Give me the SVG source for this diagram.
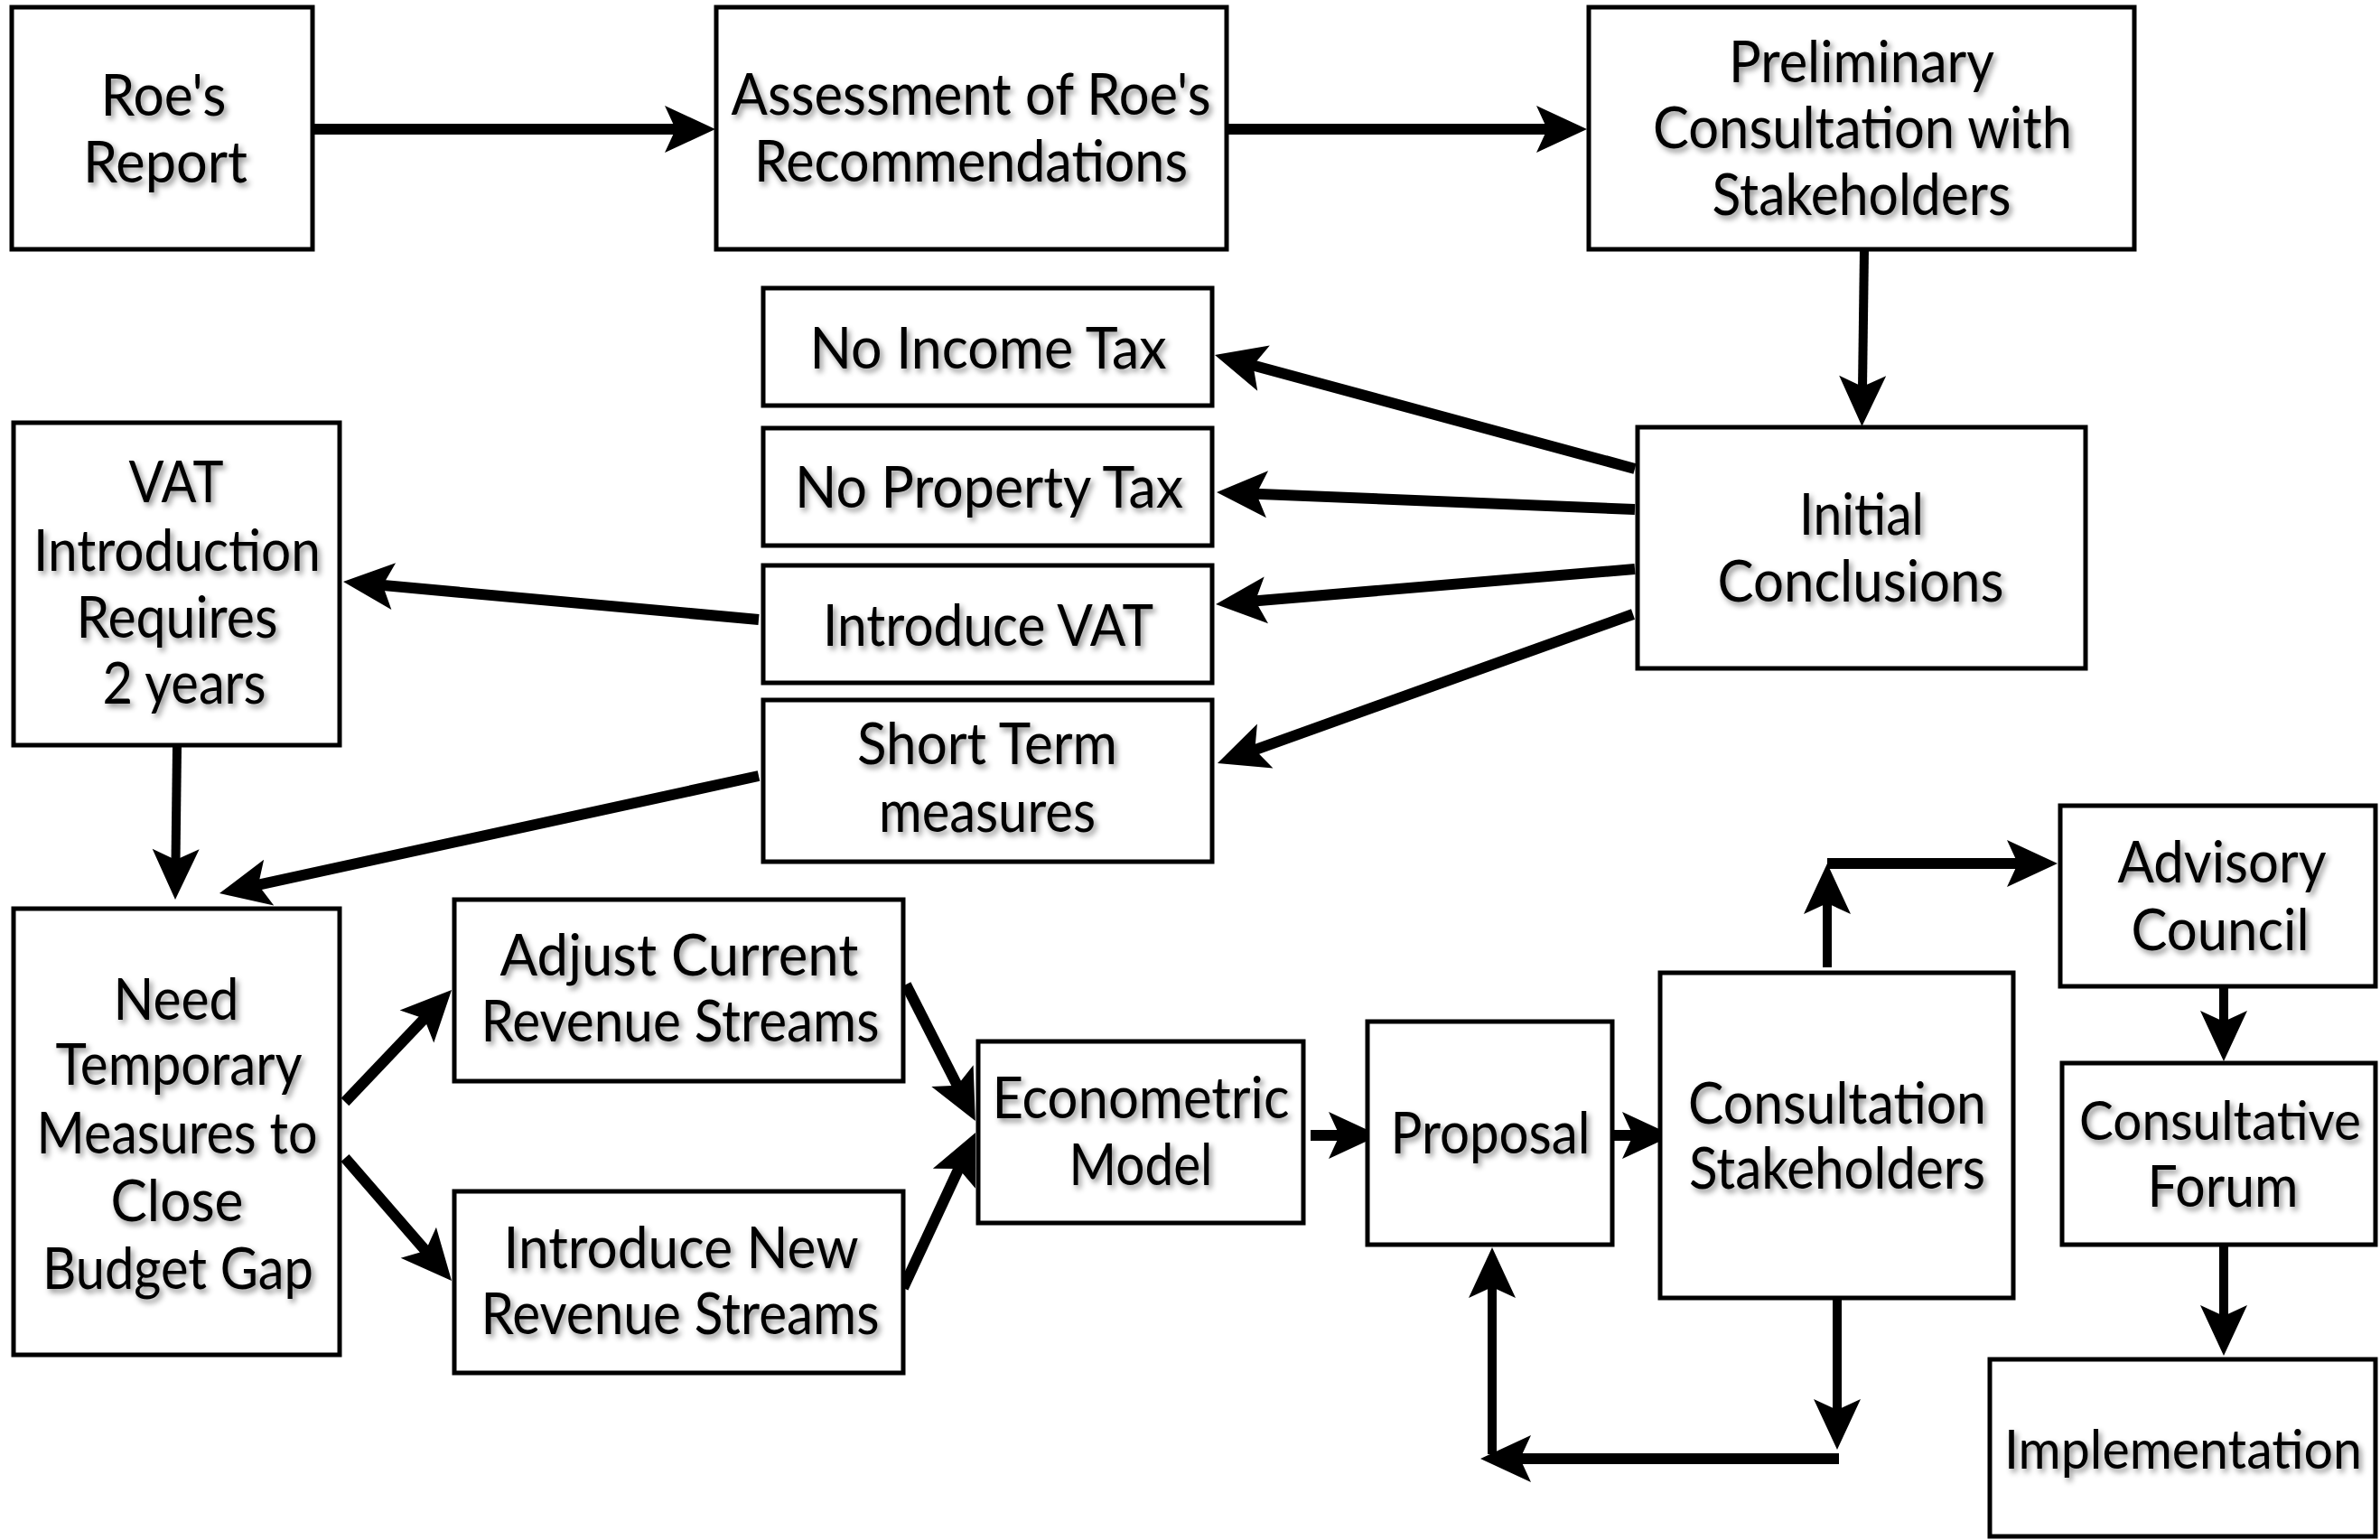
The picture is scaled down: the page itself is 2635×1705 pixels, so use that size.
<svg xmlns="http://www.w3.org/2000/svg" width="2635" height="1705" viewBox="0 0 2635 1705">
<style>
.box{fill:#fff;stroke:#000;stroke-width:5}
.t{font-family:Lato,"Liberation Sans",sans-serif;font-size:64px;fill:#000;text-anchor:middle;filter:url(#sh)}
.t.s{font-size:60px}
.c{fill:none;stroke:#000;stroke-width:12;stroke-linecap:butt;marker-end:url(#ah)}
.c.thin{stroke-width:10}
</style>
<defs>
<filter id="sh" x="-10%" y="-30%" width="120%" height="160%">
<feDropShadow dx="3" dy="4" stdDeviation="3" flood-color="#000" flood-opacity="0.45"/>
</filter>
<marker id="ah" markerUnits="userSpaceOnUse" markerWidth="60" markerHeight="60" refX="14" refY="28" orient="auto" overflow="visible">
<path d="M0,2 L56,28 L0,54 L12,28 Z" fill="#000"/>
</marker>
</defs>
<rect width="2635" height="1705" fill="#fff"/>

<g id="connectors">
<line class="c" x1="346" y1="143" x2="750" y2="143"/>
<line class="c" x1="1358" y1="143" x2="1715" y2="143"/>
<line class="c thin" x1="2064" y1="276" x2="2062" y2="430"/>
<line class="c" x1="1810" y1="519" x2="1385.5" y2="404"/>
<line class="c" x1="1810" y1="564" x2="1389" y2="546.7"/>
<line class="c" x1="1810" y1="630" x2="1387.9" y2="665.5"/>
<line class="c" x1="1808" y1="680" x2="1387.5" y2="830.8"/>
<line class="c" x1="840" y1="686" x2="421.8" y2="647.8"/>
<line class="c thin" x1="196" y1="827" x2="194.5" y2="954"/>
<line class="c" x1="840" y1="859" x2="284" y2="980.1"/>
<line class="c" x1="382" y1="1220" x2="471.1" y2="1126.4"/>
<line class="c" x1="382" y1="1282" x2="472.5" y2="1386.3"/>
<line class="c" x1="1003" y1="1090" x2="1060.8" y2="1203.6"/>
<line class="c" x1="1000" y1="1426" x2="1062.3" y2="1292.1"/>
<line class="c" x1="1451" y1="1257" x2="1485" y2="1257"/>
<line class="c" x1="1785" y1="1257" x2="1810" y2="1257"/>
<line class="c thin" x1="2023" y1="1071" x2="2023" y2="998"/>
<line class="c" x1="2023" y1="956" x2="2236" y2="956"/>
<line class="c thin" x1="2034" y1="1439" x2="2034" y2="1563"/>
<line class="c" x1="2036" y1="1615" x2="1681" y2="1615"/>
<line class="c thin" x1="1652" y1="1610" x2="1652" y2="1423"/>
<line class="c thin" x1="2462" y1="1093" x2="2462" y2="1133"/>
<line class="c thin" x1="2462" y1="1378" x2="2462" y2="1459"/>
</g>

<g id="n-roes-report">
<rect class="box" x="13" y="8" width="333" height="268"/>
<text class="t" x="181" y="128" textLength="139" lengthAdjust="spacingAndGlyphs">Roe's</text>
<text class="t" x="183" y="202" textLength="182" lengthAdjust="spacingAndGlyphs">Report</text>
</g>
<g id="n-assessment">
<rect class="box" x="793" y="8" width="565" height="268"/>
<text class="t" x="1075" y="127" textLength="531" lengthAdjust="spacingAndGlyphs">Assessment of Roe's</text>
<text class="t" x="1075" y="201" textLength="480" lengthAdjust="spacingAndGlyphs">Recommendations</text>
</g>
<g id="n-preliminary">
<rect class="box" x="1759" y="8" width="604" height="268"/>
<text class="t" x="2061" y="91" textLength="294" lengthAdjust="spacingAndGlyphs">Preliminary</text>
<text class="t" x="2062" y="164" textLength="464" lengthAdjust="spacingAndGlyphs">Consultation with</text>
<text class="t" x="2061" y="238" textLength="331" lengthAdjust="spacingAndGlyphs">Stakeholders</text>
</g>
<g id="n-no-income-tax">
<rect class="box" x="845" y="319" width="497" height="130"/>
<text class="t" x="1094" y="408" textLength="395" lengthAdjust="spacingAndGlyphs">No Income Tax</text>
</g>
<g id="n-no-property-tax">
<rect class="box" x="845" y="474" width="497" height="130"/>
<text class="t" x="1095" y="562" textLength="430" lengthAdjust="spacingAndGlyphs">No Property Tax</text>
</g>
<g id="n-introduce-vat">
<rect class="box" x="845" y="626" width="497" height="130"/>
<text class="t" x="1094" y="715" textLength="366" lengthAdjust="spacingAndGlyphs">Introduce VAT</text>
</g>
<g id="n-short-term">
<rect class="box" x="845" y="775" width="497" height="179"/>
<text class="t" x="1093" y="846" textLength="288" lengthAdjust="spacingAndGlyphs">Short Term</text>
<text class="t" x="1093" y="921" textLength="240" lengthAdjust="spacingAndGlyphs">measures</text>
</g>
<g id="n-vat-intro">
<rect class="box" x="15" y="468" width="361" height="357"/>
<text class="t" x="195" y="556" textLength="105" lengthAdjust="spacingAndGlyphs">VAT</text>
<text class="t" x="196" y="632" textLength="318" lengthAdjust="spacingAndGlyphs">Introduction</text>
<text class="t" x="196" y="706" textLength="223" lengthAdjust="spacingAndGlyphs">Requires</text>
<text class="t" x="204" y="779" textLength="181" lengthAdjust="spacingAndGlyphs">2 years</text>
</g>
<g id="n-initial-conclusions">
<rect class="box" x="1813" y="473" width="496" height="267"/>
<text class="t" x="2061" y="592" textLength="138" lengthAdjust="spacingAndGlyphs">Initial</text>
<text class="t" x="2060" y="666" textLength="317" lengthAdjust="spacingAndGlyphs">Conclusions</text>
</g>
<g id="n-need-temporary">
<rect class="box" x="15" y="1006" width="361" height="494"/>
<text class="t" x="195" y="1129" textLength="139" lengthAdjust="spacingAndGlyphs">Need</text>
<text class="t" x="198" y="1201" textLength="273" lengthAdjust="spacingAndGlyphs">Temporary</text>
<text class="t" x="196" y="1277" textLength="311" lengthAdjust="spacingAndGlyphs">Measures to</text>
<text class="t" x="196" y="1352" textLength="147" lengthAdjust="spacingAndGlyphs">Close</text>
<text class="t" x="197" y="1427" textLength="300" lengthAdjust="spacingAndGlyphs">Budget Gap</text>
</g>
<g id="n-adjust-current">
<rect class="box" x="503" y="996" width="497" height="201"/>
<text class="t" x="752" y="1080" textLength="397" lengthAdjust="spacingAndGlyphs">Adjust Current</text>
<text class="t" x="753" y="1153" textLength="441" lengthAdjust="spacingAndGlyphs">Revenue Streams</text>
</g>
<g id="n-introduce-new">
<rect class="box" x="503" y="1319" width="497" height="201"/>
<text class="t" x="754" y="1404" textLength="393" lengthAdjust="spacingAndGlyphs">Introduce New</text>
<text class="t" x="753" y="1477" textLength="441" lengthAdjust="spacingAndGlyphs">Revenue Streams</text>
</g>
<g id="n-econometric">
<rect class="box" x="1083" y="1153" width="360" height="201"/>
<text class="t" x="1263" y="1238" textLength="329" lengthAdjust="spacingAndGlyphs">Econometric</text>
<text class="t" x="1263" y="1312" textLength="159" lengthAdjust="spacingAndGlyphs">Model</text>
</g>
<g id="n-proposal">
<rect class="box" x="1514" y="1131" width="271" height="247"/>
<text class="t" x="1650" y="1277" textLength="221" lengthAdjust="spacingAndGlyphs">Proposal</text>
</g>
<g id="n-consultation">
<rect class="box" x="1838" y="1077" width="391" height="360"/>
<text class="t" x="2034" y="1244" textLength="330" lengthAdjust="spacingAndGlyphs">Consultation</text>
<text class="t" x="2034" y="1316" textLength="328" lengthAdjust="spacingAndGlyphs">Stakeholders</text>
</g>
<g id="n-advisory">
<rect class="box" x="2281" y="892" width="349" height="200"/>
<text class="t" x="2460" y="977" textLength="231" lengthAdjust="spacingAndGlyphs">Advisory</text>
<text class="t" x="2458" y="1052" textLength="197" lengthAdjust="spacingAndGlyphs">Council</text>
</g>
<g id="n-consultative-forum">
<rect class="box" x="2283" y="1177" width="347" height="201"/>
<text class="t s" x="2458" y="1262" textLength="312" lengthAdjust="spacingAndGlyphs">Consultative</text>
<text class="t" x="2461" y="1336" textLength="167" lengthAdjust="spacingAndGlyphs">Forum</text>
</g>
<g id="n-implementation">
<rect class="box" x="2203" y="1505" width="427" height="196"/>
<text class="t s" x="2417" y="1626" textLength="396" lengthAdjust="spacingAndGlyphs">Implementation</text>
</g>
</svg>
